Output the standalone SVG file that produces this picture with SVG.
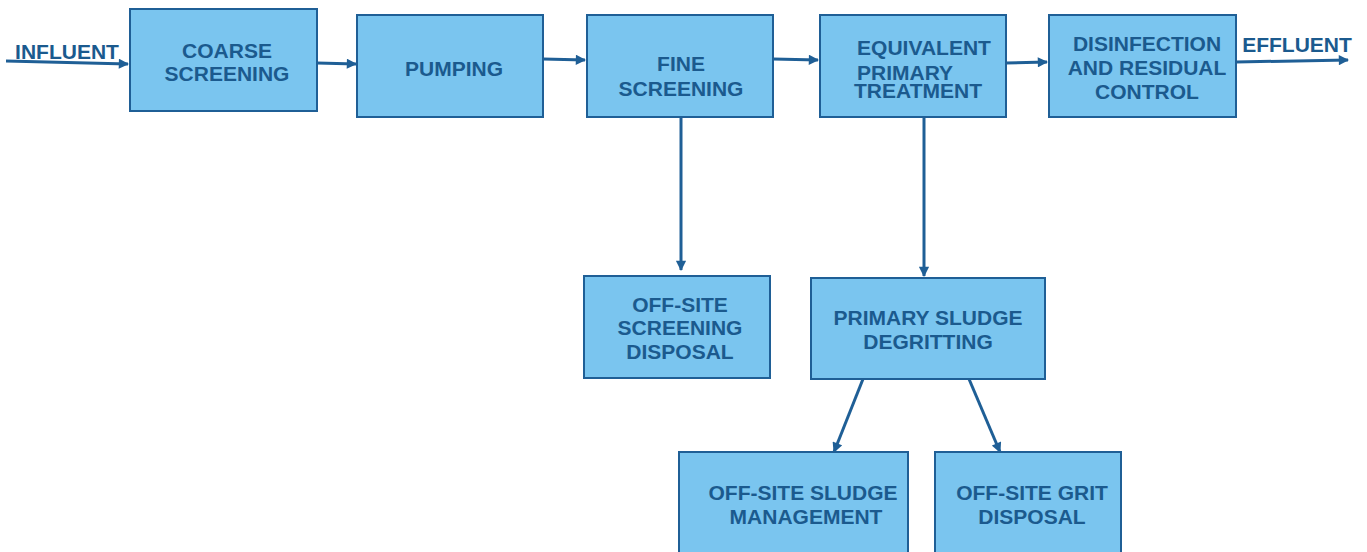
<svg xmlns="http://www.w3.org/2000/svg" width="1367" height="552" viewBox="0 0 1367 552">
<defs>
<style>
.box{fill:#7AC5EF;stroke:#1F5F96;stroke-width:2}
.t{font-family:"Liberation Sans",Arial,sans-serif;font-weight:bold;font-size:21px;fill:#1B5A8E;text-anchor:middle}
.c{stroke:#1F5F96;stroke-width:3;fill:none;marker-end:url(#ah)}
</style>
<marker id="ah" viewBox="0 0 10 10" refX="9" refY="5" markerWidth="4" markerHeight="3.4" orient="auto" markerUnits="strokeWidth">
<path d="M0,0 L10,5 L0,10 Z" fill="#1F5F96"/>
</marker>
</defs>
<rect width="1367" height="552" fill="#FFFFFF"/>
<g id="connectors">
<path class="c" d="M6,61 L128,64"/>
<path class="c" d="M317,63 L356,64"/>
<path class="c" d="M543,59 L585,60"/>
<path class="c" d="M773,59 L818,60"/>
<path class="c" d="M1006,63 L1047,62"/>
<path class="c" d="M1236,62 L1348,60"/>
<path class="c" d="M681,117 L681,270"/>
<path class="c" d="M924,117 L924,276"/>
<path class="c" d="M863,379 L834,452"/>
<path class="c" d="M969,379 L1000,452"/>
</g>
<g id="influent"><text class="t" x="67" y="59">INFLUENT</text></g>
<g id="effluent"><text class="t" x="1297" y="52">EFFLUENT</text></g>
<g id="coarse-screening">
<rect class="box" x="130" y="9" width="187" height="102"/>
<text class="t" x="227" y="58">COARSE</text>
<text class="t" x="227" y="81">SCREENING</text>
</g>
<g id="pumping">
<rect class="box" x="357" y="15" width="186" height="102"/>
<text class="t" x="454" y="76">PUMPING</text>
</g>
<g id="fine-screening">
<rect class="box" x="587" y="15" width="186" height="102"/>
<text class="t" x="681" y="71">FINE</text>
<text class="t" x="681" y="96">SCREENING</text>
</g>
<g id="equivalent-primary-treatment">
<rect class="box" x="820" y="15" width="186" height="102"/>
<text class="t" x="924" y="55">EQUIVALENT</text>
<text class="t" x="905" y="80">PRIMARY</text>
<text class="t" x="918" y="98">TREATMENT</text>
</g>
<g id="disinfection">
<rect class="box" x="1049" y="15" width="187" height="102"/>
<text class="t" x="1147" y="51">DISINFECTION</text>
<text class="t" x="1147" y="75">AND RESIDUAL</text>
<text class="t" x="1147" y="99">CONTROL</text>
</g>
<g id="offsite-screening-disposal">
<rect class="box" x="584" y="276" width="186" height="102"/>
<text class="t" x="680" y="312">OFF-SITE</text>
<text class="t" x="680" y="335">SCREENING</text>
<text class="t" x="680" y="359">DISPOSAL</text>
</g>
<g id="primary-sludge-degritting">
<rect class="box" x="811" y="278" width="234" height="101"/>
<text class="t" x="928" y="325">PRIMARY SLUDGE</text>
<text class="t" x="928" y="349">DEGRITTING</text>
</g>
<g id="offsite-sludge-management">
<rect class="box" x="679" y="452" width="229" height="110"/>
<text class="t" x="803" y="500">OFF-SITE SLUDGE</text>
<text class="t" x="806" y="524">MANAGEMENT</text>
</g>
<g id="offsite-grit-disposal">
<rect class="box" x="935" y="452" width="186" height="110"/>
<text class="t" x="1032" y="500">OFF-SITE GRIT</text>
<text class="t" x="1032" y="524">DISPOSAL</text>
</g>
</svg>
